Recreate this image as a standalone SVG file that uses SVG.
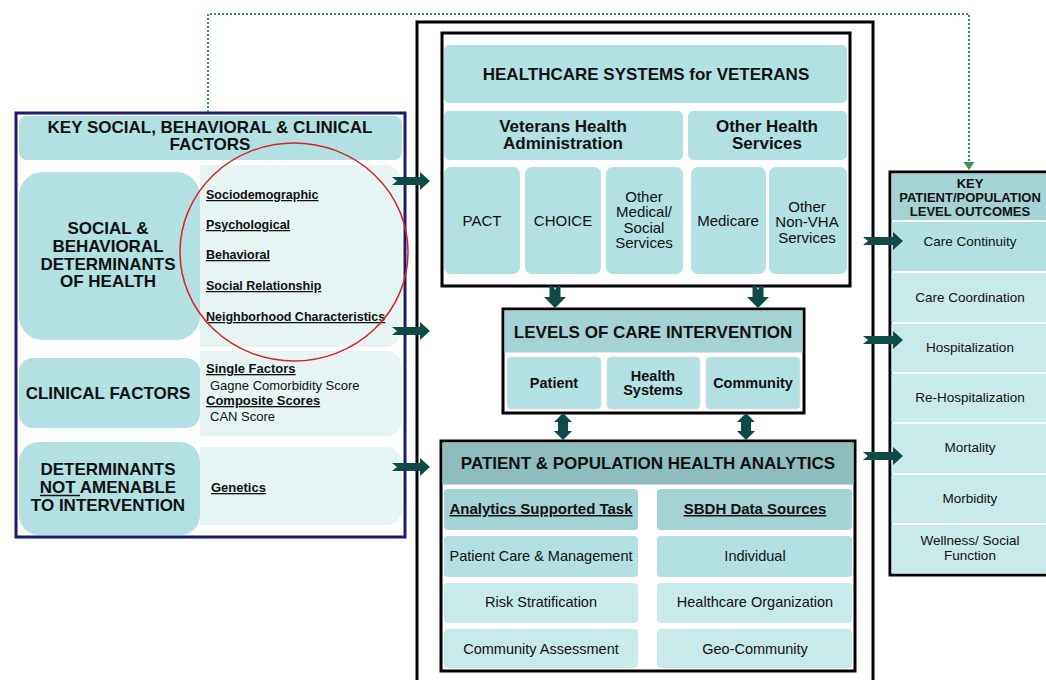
<svg xmlns="http://www.w3.org/2000/svg" xmlns:xlink="http://www.w3.org/1999/xlink" width="1046" height="680" viewBox="0 0 1046 680">
<style>
text{font-family:"Liberation Sans",Arial,sans-serif;fill:#111;}
.b{font-weight:bold;}
.c{text-anchor:middle;}
.t17{font-size:17px;}
.t15{font-size:15px;}
.t145{font-size:14.5px;}
.t13{font-size:13px;}
.t135{font-size:13.5px;}
.t125{font-size:12.5px;}
.u{text-decoration:underline;}
.l1{fill:#b2e0e3;}
.l2{fill:#e6f4f4;}
.l3{fill:#a5d2d4;}
.l4{fill:#c9eaeb;}
.l5{fill:#8fbcbd;}
.blk{fill:none;stroke:#000;stroke-width:3;}
.arr{fill:#0e4a48;}
</style>
<defs>
<path id="arR" d="M0,-4 L28,-4 L28,-9 L38,0 L28,9 L28,4 L0,4 L5,0 Z"/>
<path id="arR2" d="M0,-4 L30,-4 L30,-9 L40,0 L30,9 L30,4 L0,4 L5,0 Z"/>
<path id="arD" d="M-5.5,0 L-2,0 L0,4 L2,0 L5.5,0 L5.5,11 L11,11 L0,22 L-11,11 L-5.5,11 Z"/>
<path id="arDD" d="M0,0 L9,9 L5,9 L5,18 L9,18 L0,27 L-9,18 L-5,18 L-5,9 L-9,9 Z"/>
</defs>
<rect width="1046" height="680" fill="#fff"/>

<!-- Left panel -->
<g id="key-factors">
<rect x="16" y="113" width="389" height="424" fill="#fff" stroke="#1b1d6a" stroke-width="3"/>
<rect class="l1" x="19" y="116" width="383" height="44" rx="8"/>
<text class="b c t17" x="210" y="133">KEY SOCIAL, BEHAVIORAL &amp; CLINICAL</text>
<text class="b c t17" x="210" y="150">FACTORS</text>
</g>

<g id="sbdh">
<path class="l2" d="M200,165 H384 A18,18 0 0 1 402,183 V329 A18,18 0 0 1 384,347 H200 Z"/>
<rect class="l1" x="19" y="172" width="181" height="168" rx="24"/>
<text class="b c t17" x="108" y="234">SOCIAL &amp;</text>
<text class="b c t17" x="108" y="252">BEHAVIORAL</text>
<text class="b c t17" x="108" y="270">DETERMINANTS</text>
<text class="b c t17" x="108" y="287">OF HEALTH</text>
<text class="b u t125" x="206" y="199">Sociodemographic</text>
<text class="b u t125" x="206" y="229">Psychological</text>
<text class="b u t125" x="206" y="259">Behavioral</text>
<text class="b u t125" x="206" y="290">Social Relationship</text>
<text class="b u t125" x="206" y="321">Neighborhood Characteristics</text>
</g>

<g id="clinical">
<path class="l2" d="M200,351 H386 A16,16 0 0 1 402,367 V420 A16,16 0 0 1 386,436 H200 Z"/>
<rect class="l1" x="19" y="358" width="181" height="70" rx="14"/>
<text class="b c t17" x="108" y="399">CLINICAL FACTORS</text>
<text class="b u t13" x="206" y="373">Single Factors</text>
<text class="t13" x="210" y="390">Gagne Comorbidity Score</text>
<text class="b u t13" x="206" y="405">Composite Scores</text>
<text class="t13" x="210" y="421">CAN Score</text>
</g>

<g id="not-amenable">
<path class="l2" d="M200,447 H386 A16,16 0 0 1 402,463 V509 A16,16 0 0 1 386,525 H200 Z"/>
<rect class="l1" x="19" y="442" width="181" height="93" rx="20"/>
<text class="b c t17" x="108" y="475">DETERMINANTS</text>
<text class="b c t17" x="108" y="493">NOT AMENABLE</text>
<line x1="40" y1="495.5" x2="80" y2="495.5" stroke="#111" stroke-width="1.5"/>
<text class="b c t17" x="108" y="511">TO INTERVENTION</text>
<text class="b u t13" x="211" y="492">Genetics</text>
</g>

<ellipse id="highlight" cx="294" cy="252" rx="114" ry="109" fill="none" stroke="#d42424" stroke-width="1.5"/>

<!-- Center outer box -->
<rect id="center-frame" class="blk" x="417" y="22" width="456" height="700"/>

<g id="healthcare-systems">
<rect class="blk" x="442" y="33" width="408" height="253" fill="#fff"/>
<rect class="l1" x="444" y="45" width="403" height="58" rx="5"/>
<text class="b c t17" x="646" y="80">HEALTHCARE SYSTEMS for VETERANS</text>
<rect class="l1" x="444" y="111" width="239" height="49" rx="5"/>
<text class="b c t17" x="563" y="132">Veterans Health</text>
<text class="b c t17" x="563" y="149">Administration</text>
<rect class="l1" x="688" y="111" width="159" height="49" rx="5"/>
<text class="b c t17" x="767" y="132">Other Health</text>
<text class="b c t17" x="767" y="149">Services</text>
<rect class="l1" x="444" y="167" width="76" height="107" rx="7"/>
<text class="c t15" x="482" y="226">PACT</text>
<rect class="l1" x="525" y="167" width="76" height="107" rx="7"/>
<text class="c t15" x="563" y="226">CHOICE</text>
<rect class="l1" x="606" y="167" width="77" height="107" rx="7"/>
<text class="c t15" x="644" y="202">Other</text>
<text class="c t15" x="644" y="217">Medical/</text>
<text class="c t15" x="644" y="233">Social</text>
<text class="c t15" x="644" y="248">Services</text>
<rect class="l1" x="691" y="167" width="75" height="107" rx="7"/>
<text class="c t15" x="728" y="226">Medicare</text>
<rect class="l1" x="769" y="167" width="78" height="107" rx="7"/>
<text class="c t15" x="807" y="212">Other</text>
<text class="c t15" x="807" y="227">Non-VHA</text>
<text class="c t15" x="807" y="243">Services</text>
</g>

<g id="levels-of-care">
<rect class="blk" x="503" y="309" width="301" height="104" fill="#fff"/>
<rect class="l3" x="504.5" y="310.5" width="298" height="42"/>
<text class="b c t17" x="653" y="338">LEVELS OF CARE INTERVENTION</text>
<rect class="l1" x="507" y="357" width="94" height="52" rx="4" stroke="#e0e0e0" stroke-width="1"/>
<text class="b c t145" x="554" y="388">Patient</text>
<rect class="l1" x="607" y="357" width="93" height="52" rx="4" stroke="#e0e0e0" stroke-width="1"/>
<text class="b c t145" x="653" y="381">Health</text>
<text class="b c t145" x="653" y="395">Systems</text>
<rect class="l1" x="706" y="357" width="94" height="52" rx="4" stroke="#e0e0e0" stroke-width="1"/>
<text class="b c t145" x="753" y="388">Community</text>
</g>

<g id="health-analytics">
<rect class="blk" x="441" y="441" width="414" height="230" fill="#fff"/>
<rect class="l5" x="442.5" y="442.5" width="411" height="42"/>
<text class="b c t17" x="648" y="469">PATIENT &amp; POPULATION HEALTH ANALYTICS</text>
<rect class="l3" x="444" y="489" width="194" height="41" rx="4"/>
<text class="b c u t15" x="541" y="514">Analytics Supported Task</text>
<rect class="l3" x="657" y="489" width="195" height="41" rx="4"/>
<text class="b c u t15" x="755" y="514">SBDH Data Sources</text>
<rect class="l1" x="444" y="536" width="194" height="41" rx="4"/>
<text class="c t145" x="541" y="561">Patient Care &amp; Management</text>
<rect class="l1" x="657" y="536" width="195" height="41" rx="4"/>
<text class="c t145" x="755" y="561">Individual</text>
<rect class="l4" x="444" y="583" width="194" height="40" rx="4"/>
<text class="c t145" x="541" y="607">Risk Stratification</text>
<rect class="l4" x="657" y="583" width="195" height="40" rx="4"/>
<text class="c t145" x="755" y="607">Healthcare Organization</text>
<rect class="l4" x="444" y="629" width="194" height="39" rx="4"/>
<text class="c t145" x="541" y="654">Community Assessment</text>
<rect class="l4" x="657" y="629" width="195" height="39" rx="4"/>
<text class="c t145" x="755" y="654">Geo-Community</text>
</g>

<g id="outcomes">
<rect class="blk" x="890" y="172" width="170" height="403" fill="#fff"/>
<rect class="l3" x="891.5" y="173.5" width="160" height="46.5"/>
<text class="b c t13" x="970" y="188">KEY</text>
<text class="b c t13" x="970" y="202">PATIENT/POPULATION</text>
<text class="b c t13" x="970" y="216">LEVEL OUTCOMES</text>
<rect class="l1" x="891.5" y="222" width="160" height="49"/>
<text class="c t135" x="970" y="246">Care Continuity</text>
<rect class="l4" x="891.5" y="273" width="160" height="49"/>
<text class="c t135" x="970" y="302">Care Coordination</text>
<rect class="l4" x="891.5" y="324" width="160" height="48"/>
<text class="c t135" x="970" y="352">Hospitalization</text>
<rect class="l4" x="891.5" y="374" width="160" height="48"/>
<text class="c t135" x="970" y="402">Re-Hospitalization</text>
<rect class="l4" x="891.5" y="424" width="160" height="49"/>
<text class="c t135" x="970" y="452">Mortality</text>
<rect class="l4" x="891.5" y="475" width="160" height="48"/>
<text class="c t135" x="970" y="503">Morbidity</text>
<rect class="l4" x="891.5" y="525" width="160" height="48.5"/>
<text class="c t135" x="970" y="545">Wellness/ Social</text>
<text class="c t135" x="970" y="560">Function</text>
</g>

<g id="connectors">
<path d="M208,112 V14 H969 V163" fill="none" stroke="#3f8d5d" stroke-width="2" stroke-dasharray="2,2"/>
<path d="M963.5,162 L974.5,162 L969,170 Z" fill="#3f8d5d"/>
<use xlink:href="#arR" class="arr" x="392" y="181"/>
<use xlink:href="#arR" class="arr" x="392" y="331"/>
<use xlink:href="#arR" class="arr" x="392" y="467"/>
<use xlink:href="#arR2" class="arr" x="863" y="241"/>
<use xlink:href="#arR2" class="arr" x="863" y="340"/>
<use xlink:href="#arR2" class="arr" x="863" y="456"/>
<use xlink:href="#arD" class="arr" x="555" y="286"/>
<use xlink:href="#arD" class="arr" x="758" y="286"/>
<use xlink:href="#arDD" class="arr" x="563" y="413"/>
<use xlink:href="#arDD" class="arr" x="746" y="413"/>
</g>
</svg>
